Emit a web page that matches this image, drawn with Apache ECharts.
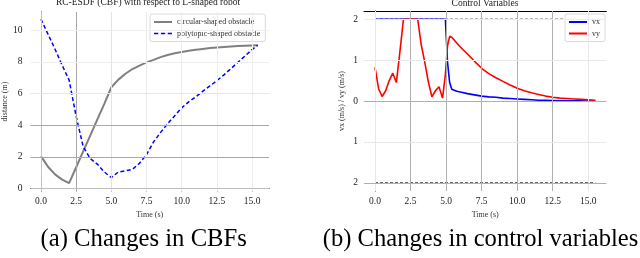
<!DOCTYPE html>
<html><head><meta charset="utf-8">
<script src="https://cdn.jsdelivr.net/npm/echarts@6/dist/echarts.min.js"></script>
<style>html,body{margin:0;padding:0;background:#fff}#c{width:640px;height:258px}</style>
</head><body><div id="c"></div>
<script>
// ---- (a) CBF data ----
const cbfTime = [0,0.5,1,1.5,2,2.5,3,3.5,4,4.5,5,5.5,6,6.5,7,7.5,8,8.5,9,9.5,10,10.5,11,11.5,12,12.5,13,13.5,14,14.5,15,15.4];
const circularDist = [2.05,1.38,0.9,0.57,0.35,1.35,2.35,3.35,4.35,5.35,6.4,6.88,7.25,7.55,7.77,7.97,8.13,8.3,8.44,8.55,8.63,8.7,8.77,8.82,8.87,8.91,8.94,8.97,9.0,9.02,9.04,9.05];
const polytopicDist = [10.7,9.75,8.8,7.8,6.85,4.56,2.65,1.9,1.55,1.05,0.7,1.05,1.12,1.22,1.6,2.15,2.95,3.55,4.1,4.6,5.1,5.48,5.8,6.15,6.48,6.82,7.18,7.58,7.98,8.38,8.78,9.05];
const cbfXTicks = [0,2.5,5,7.5,10,12.5,15];
const cbfYTicks = [0,2,4,6,8,10];

// ---- (b) control data ----
const ctrlTime = [0,0.25,0.5,0.75,1,1.25,1.5,1.75,2,2.25,2.5,2.75,3,3.25,3.5,3.75,4,4.25,4.5,4.75,4.95,5.1,5.25,5.4,5.75,6,6.5,7,7.5,8,8.5,9,9.5,10,10.5,11,11.5,12,12.5,13,13.5,14,14.5,15,15.5];
const vx = [2,2,2,2,2,2,2,2,2,2,2,2,2,2,2,2,2,2,2,2,2,0.95,0.45,0.29,0.24,0.22,0.18,0.15,0.12,0.1,0.09,0.07,0.06,0.05,0.04,0.03,0.02,0.015,0.01,0.005,0.004,0.003,0.002,0.001,0];
const vy = [0.82,0.3,0.11,0.25,0.5,0.68,0.45,1.2,2,2,2,2,2,1.38,0.95,0.47,0.1,0.25,0.35,0.07,0.65,1.35,1.58,1.56,1.42,1.32,1.15,0.97,0.8,0.67,0.57,0.48,0.39,0.31,0.25,0.2,0.16,0.12,0.09,0.07,0.06,0.05,0.04,0.03,0.02];
const limitTime = [0, 15.5];
const upperLimit = [2, 2];
const lowerLimit = [-2, -2];
const ctrlXTicks = [0,2.5,5,7.5,10,12.5,15];
const ctrlYTicks = [-2,-1,0,1,2];

const pair = (xs, ys) => xs.map((x, i) => [x, ys[i]]);
const FONT = '"Liberation Serif","Times New Roman",serif';

// grid line styles (presentation only)
const cbfVGridColors = ['#c4c4c4','#a8a8a8','#e4e4e4','#ebebeb','#ededed','#ededed','#ededed'];
const cbfHGridColors = ['#bdbdbd','#a8a8a8','#a8a8a8','#e6e6e6','#eeeeee','#eeeeee'];
const ctrlVGridColors = ['#e8e8e8','#b0b0b0','#b0b0b0','#b0b0b0','#b0b0b0','#b0b0b0','#e8e8e8'];
const ctrlHGridColors = ['#b0b0b0','#e8e8e8','#b0b0b0','#e8e8e8','#ececec'];

const SOLID_ICON = 'path://M0,0h18v2h-18z';
const DASH_ICON = 'path://M0,0h4v1.6h-4z M6.5,0h4v1.6h-4z M13,0h4v1.6h-4z';

function gridLines(xt, xc, yt, yc) {
  const d = [];
  xt.forEach((v, i) => d.push({xAxis: v, lineStyle: {color: xc[i], width: 1, type: 'solid'}}));
  yt.forEach((v, i) => d.push({yAxis: v, lineStyle: {color: yc[i], width: 1, type: 'solid'}}));
  return {silent: true, symbol: ['none','none'], label: {show: false}, animation: false, data: d};
}

const labelStyle = {fontFamily: FONT, fontSize: 9.5, color: '#222'};
const spine = (c) => ({show: true, lineStyle: {color: c, width: 1}});
const legendBase = {
  orient: 'vertical', itemWidth: 18, itemHeight: 8, itemGap: 3.5, padding: [4, 5, 4, 4],
  textStyle: {fontFamily: FONT, fontSize: 8, color: '#333', padding: [0, 0, 0, 0]},
  backgroundColor: '#fff', borderColor: '#d0d0d0', borderWidth: 0.8, borderRadius: 2
};

const chart = echarts.init(document.getElementById('c'), null, {renderer: 'canvas'});
chart.setOption({
  animation: false,
  backgroundColor: '#fff',
  grid: [
    {left: 27, right: 371, top: 12, bottom: 67},
    {left: 364, right: 33.6, top: 11, bottom: 67}
  ],
  xAxis: [
    {gridIndex: 0, type: 'value', min: -0.75, max: 16.2, position: 'bottom',
     axisLine: spine('#cfcfcf'),
     axisTick: {show: true, customValues: cbfXTicks, length: 3, lineStyle: {color: '#999'}},
     axisLabel: {customValues: cbfXTicks, formatter: v => v.toFixed(1), margin: 5, ...labelStyle},
     splitLine: {show: false},
     name: 'Time (s)', nameLocation: 'middle', nameGap: 15,
     nameTextStyle: {fontFamily: FONT, fontSize: 8, color: '#333'}},
    {gridIndex: 0, type: 'value', min: -0.75, max: 16.2, position: 'top',
     axisLine: spine('#000'), axisTick: {show: false}, axisLabel: {show: false}, splitLine: {show: false}},
    {gridIndex: 1, type: 'value', min: -0.775, max: 16.275, position: 'bottom',
     axisLine: spine('#cfcfcf'),
     axisTick: {show: true, customValues: ctrlXTicks, length: 3, lineStyle: {color: '#999'}},
     axisLabel: {customValues: ctrlXTicks, formatter: v => v.toFixed(1), margin: 5, ...labelStyle},
     splitLine: {show: false},
     name: 'Time (s)', nameLocation: 'middle', nameGap: 15,
     nameTextStyle: {fontFamily: FONT, fontSize: 8, color: '#333'}},
    {gridIndex: 1, type: 'value', min: -0.775, max: 16.275, position: 'top',
     axisLine: spine('#000'), axisTick: {show: false}, axisLabel: {show: false}, splitLine: {show: false}}
  ],
  yAxis: [
    {gridIndex: 0, type: 'value', min: -0.15, max: 11.15, position: 'left',
     axisLine: {show: false},
     axisTick: {show: true, customValues: cbfYTicks, length: 5, lineStyle: {color: '#999'}},
     axisLabel: {customValues: cbfYTicks, margin: 8, ...labelStyle},
     splitLine: {show: false},
     name: 'distance (m)', nameLocation: 'middle', nameGap: 15,
     nameTextStyle: {fontFamily: FONT, fontSize: 8, color: '#333'}},
    {gridIndex: 0, type: 'value', min: -0.15, max: 11.15, position: 'right',
     axisLine: spine('#000'), axisTick: {show: false}, axisLabel: {show: false}, splitLine: {show: false}},
    {gridIndex: 1, type: 'value', min: -2.2, max: 2.2, position: 'left',
     axisLine: spine('#000'),
     axisTick: {show: true, customValues: ctrlYTicks, length: 3, lineStyle: {color: '#999'}},
     axisLabel: {customValues: ctrlYTicks, formatter: v => String(Math.abs(v)), margin: 6, ...labelStyle},
     splitLine: {show: false},
     name: 'vx (m/s) / vy (m/s)', nameLocation: 'middle', nameGap: 18,
     nameTextStyle: {fontFamily: FONT, fontSize: 8, color: '#333'}}
  ],
  legend: [
    {...legendBase, left: 150, top: 14,
     data: [{name: 'circular-shaped obstacle', icon: SOLID_ICON}, {name: 'polytopic-shaped obstacle', icon: DASH_ICON}]},
    {...legendBase, left: 565, top: 14,
     data: [{name: 'vx', icon: SOLID_ICON}, {name: 'vy', icon: SOLID_ICON}]}
  ],
  graphic: [
    {type: 'text', x: 148, y: 2.5, style: {text: 'RC-ESDF (CBF) with respect to L-shaped robot', textAlign: 'center', textVerticalAlign: 'middle', font: '9.5px ' + FONT, fill: '#222'}},
    {type: 'text', x: 485, y: 3, style: {text: 'Control Variables', textAlign: 'center', textVerticalAlign: 'middle', font: '9.5px ' + FONT, fill: '#222'}},
    {type: 'text', x: 143.7, y: 240, style: {text: '(a) Changes in CBFs', textAlign: 'center', textVerticalAlign: 'middle', font: '24.7px ' + FONT, fill: '#000'}},
    {type: 'text', x: 480.5, y: 240, style: {text: '(b) Changes in control variables', textAlign: 'center', textVerticalAlign: 'middle', font: '24.6px ' + FONT, fill: '#000'}}
  ],
  series: [
    {type: 'line', xAxisIndex: 0, yAxisIndex: 0, data: [], z: 1, silent: true,
     markLine: gridLines(cbfXTicks, cbfVGridColors, cbfYTicks, cbfHGridColors)},
    {type: 'line', name: 'circular-shaped obstacle', xAxisIndex: 0, yAxisIndex: 0, z: 3,
     data: pair(cbfTime, circularDist), symbol: 'none', smooth: false,
     lineStyle: {color: '#808080', width: 2}, itemStyle: {color: '#808080'}},
    {type: 'line', name: 'polytopic-shaped obstacle', xAxisIndex: 0, yAxisIndex: 0, z: 3,
     data: pair(cbfTime, polytopicDist), symbol: 'none',
     lineStyle: {color: '#0000ff', width: 1.5, type: [4, 2.5]}, itemStyle: {color: '#0000ff'}},
    {type: 'line', xAxisIndex: 2, yAxisIndex: 2, data: [], z: 1, silent: true,
     markLine: gridLines(ctrlXTicks, ctrlVGridColors, ctrlYTicks, ctrlHGridColors)},
    {type: 'line', name: 'upper', xAxisIndex: 2, yAxisIndex: 2, z: 2,
     data: pair(limitTime, upperLimit), symbol: 'none',
     lineStyle: {color: '#222', width: 1, type: [3, 2]}},
    {type: 'line', name: 'lower', xAxisIndex: 2, yAxisIndex: 2, z: 2,
     data: pair(limitTime, lowerLimit), symbol: 'none',
     lineStyle: {color: '#222', width: 1, type: [3, 2]}},
    {type: 'line', name: 'vx', xAxisIndex: 2, yAxisIndex: 2, z: 3,
     data: pair(ctrlTime, vx), symbol: 'none',
     lineStyle: {color: '#0000ff', width: 1.6}, itemStyle: {color: '#0000ff'}},
    {type: 'line', name: 'vy', xAxisIndex: 2, yAxisIndex: 2, z: 4,
     data: pair(ctrlTime, vy), symbol: 'none',
     lineStyle: {color: '#ff0000', width: 1.6}, itemStyle: {color: '#ff0000'}}
  ]
});
</script>
</body></html>
